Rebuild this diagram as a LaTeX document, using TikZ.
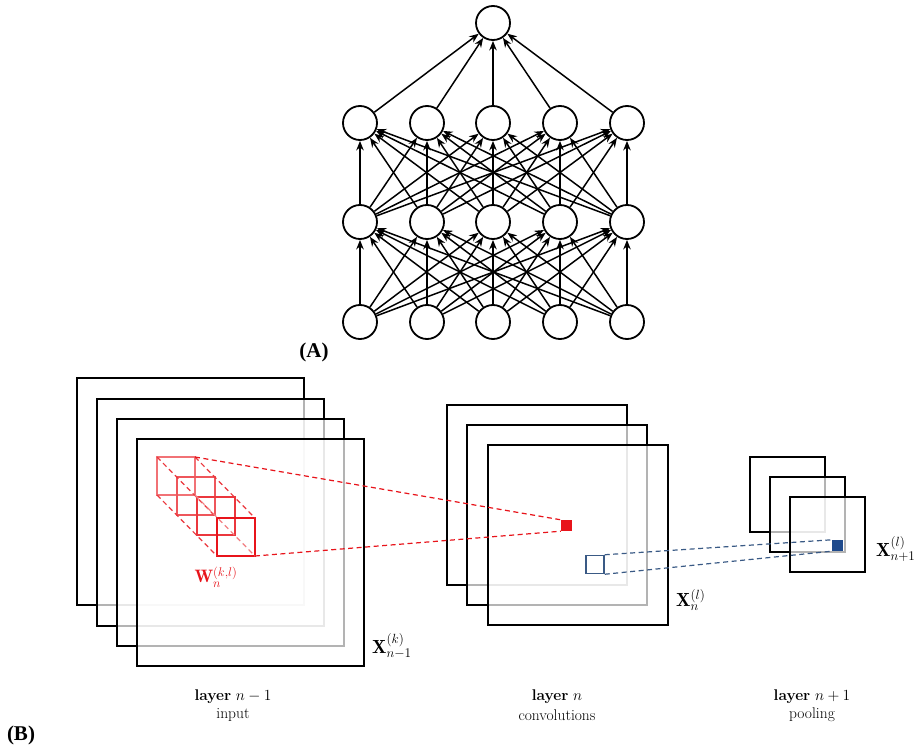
\RequirePackage{fix-cm}
\documentclass[tikz,border=0pt]{standalone}
\usepackage{fontspec}
\newfontfamily\labfont{Liberation Serif}
\usetikzlibrary{arrows.meta}
\definecolor{kred}{HTML}{E8141B}
\definecolor{kblue}{HTML}{3A5A85}
\definecolor{kbluefill}{HTML}{1F4A8C}
\tikzset{
  neuron/.style={circle,draw,line width=1.8pt,fill=white,minimum size=34pt,inner sep=0pt},
  syn/.style={line width=1.5pt,-{Stealth[length=9.5pt,width=7.5pt]}},
  fmap/.style={draw,line width=1.7pt,fill=white,fill opacity=0.7,inner sep=0pt,outer sep=0pt,anchor=north west},
  kern/.style={inner sep=0pt,outer sep=0pt,minimum size=38pt,anchor=north west},
  rdash/.style={draw=kred,line width=1.2pt,dash pattern=on 5pt off 3.5pt},
  bdash/.style={draw=kblue,line width=1.2pt,dash pattern=on 5pt off 3.5pt},
  lab/.style={font=\fontsize{15.5}{18}\selectfont,inner sep=0pt,align=center},
  xlab/.style={font=\fontsize{19}{22}\selectfont,inner sep=0pt,anchor=west},
  panel/.style={font=\labfont\bfseries\fontsize{21}{24}\selectfont,inner sep=0pt}
}
\begin{document}
\begin{tikzpicture}[x=1pt,y=-1pt]
\useasboundingbox (0,0) rectangle (919,746);
% ---------- (A) network ----------
\node[neuron] (out) at (493,23) {};
\foreach \i/\x in {1/360,2/427,3/493,4/560,5/627}{
  \node[neuron] (g\i) at (\x,123) {};
  \node[neuron] (h\i) at (\x,222) {};
  \node[neuron] (in\i) at (\x,322) {};
}
\foreach \i in {1,...,5}{
  \foreach \j in {1,...,5}{
    \draw[syn] (in\i) -- (h\j);
    \draw[syn] (h\i) -- (g\j);
  }
  \draw[syn] (g\i) -- (out);
}
\node[panel] (pa) at (314,352) {(A)};
% ---------- (B) left stack ----------
\node[fmap,minimum size=227pt] (a1) at (77,378) {};
\node[fmap,minimum size=227pt] (a2) at (97,399) {};
\node[fmap,minimum size=227pt] (a3) at (117,419) {};
\node[fmap,minimum size=227pt] (a4) at (137,439) {};
% kernel
\node[kern,draw=kred!60,line width=1.2pt] (k1) at (157,457) {};
\node[kern,draw=kred!72,line width=1.2pt] (k2) at (177,477) {};
\node[kern,draw=kred!85,line width=1.4pt] (k3) at (197,497) {};
\node[kern,draw=kred,line width=2.2pt] (k4) at (217,518) {};
\draw[rdash,draw=kred!85] (k1.north west) -- (k4.north west);
\draw[rdash,draw=kred!85] (k1.north east) -- (k4.north east);
\draw[rdash,draw=kred!85] (k1.south west) -- (k4.south west);
\draw[rdash,draw=kred!55] (k1.south east) -- (k4.south east);
\node[font=\fontsize{18}{21}\selectfont,inner sep=0pt,text=kred] (wl) at (216,577) {$\mathbf{W}_n^{(k,l)}$};
\node[xlab] (xl1) at (372,646) {$\mathbf{X}_{n-1}^{(k)}$};
% ---------- middle stack ----------
\node[fmap,minimum size=180pt] (b1) at (447,405) {};
\node[fmap,minimum size=180pt] (b2) at (467,425) {};
\node[fmap,minimum size=180pt] (b3) at (488,445) {};
\node[fill=kred,inner sep=0pt,minimum size=11pt] (rs) at (566.5,525.5) {};
\draw[rdash] (k1.north east) -- (rs.north west);
\draw[rdash] (k4.south east) -- (rs.south west);
\node[draw=kblue,line width=1.5pt,inner sep=0pt,minimum size=18pt] (bs) at (595,564.5) {};
\node[xlab] (xl2) at (676,600) {$\mathbf{X}_{n}^{(l)}$};
% ---------- right stack ----------
\node[fmap,minimum size=75pt] (c1) at (750,457) {};
\node[fmap,minimum size=75pt] (c2) at (770,477) {};
\node[fmap,minimum size=75pt] (c3) at (790,497) {};
\node[fill=kbluefill,inner sep=0pt,minimum size=11pt] (ps) at (837.5,545.5) {};
\draw[bdash] (bs.north east) -- (ps.north west);
\draw[bdash] (bs.south east) -- (ps.south west);
\node[xlab] (xl3) at (876,549) {$\mathbf{X}_{n+1}^{(l)}$};
% ---------- captions ----------
\node[lab] (t1) at (233,697) {\textbf{layer} $n-1$};
\node[lab] (t1b) at (233,715) {input};
\node[lab] (t2) at (557,697) {\textbf{layer} $n$};
\node[lab] (t2b) at (557,715) {convolutions};
\node[lab] (t3) at (812,697) {\textbf{layer} $n+1$};
\node[lab] (t3b) at (812,715) {pooling};
\node[panel] (pb) at (21,735) {(B)};
\end{tikzpicture}
\end{document}
